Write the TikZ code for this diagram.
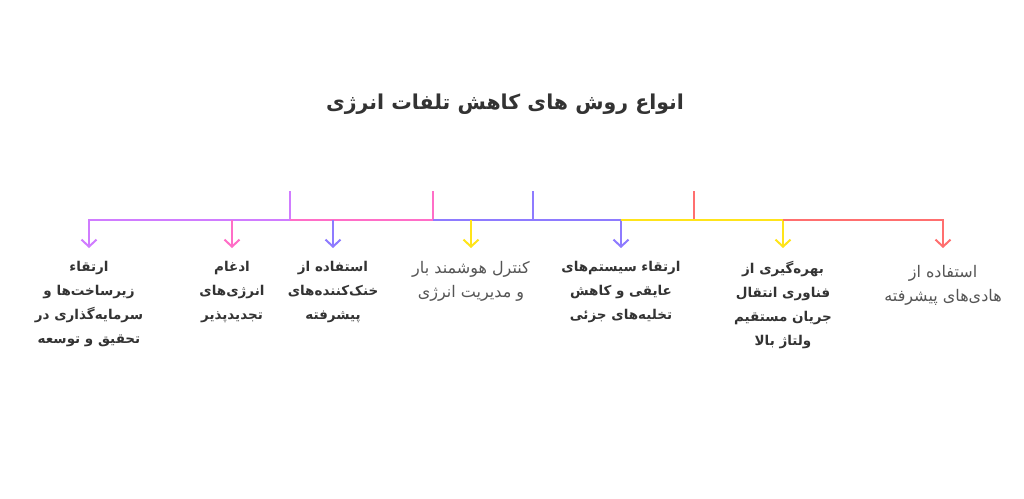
\documentclass[tikz,border=0pt]{standalone}
\usepackage{fontspec}
\usetikzlibrary{arrows.meta}
\newfontfamily\persianfont[Script=Arabic]{DejaVu Sans}
\TeXXeTstate=1
\newcommand{\fa}[1]{\beginR #1\endR}

\definecolor{violetline}{HTML}{D07CFF}
\definecolor{pinkline}{HTML}{FF6EC7}
\definecolor{blueline}{HTML}{8E7BFF}
\definecolor{yellowline}{HTML}{FFE41A}
\definecolor{redline}{HTML}{FF6F6F}
\definecolor{darktext}{HTML}{333333}
\definecolor{softtext}{HTML}{555555}

\tikzstyle{bus}=[line width=2pt]
\tikzstyle{drop}=[line width=2pt, -{Straight Barb[length=7pt,width=15pt]}, shorten >=13pt]
\tikzstyle{strongidea}=[align=center, anchor=north, inner sep=0pt, text=darktext,
    font=\persianfont\bfseries\fontsize{13.5}{24}\selectfont]
\tikzstyle{softidea}=[align=center, anchor=north, inner sep=0pt, text=softtext,
    font=\persianfont\fontsize{16}{24}\selectfont]

\begin{document}
\begin{tikzpicture}[x=1pt, y=-1pt]
            \useasboundingbox (0,0) rectangle (1024,498);

            \node[text=darktext, font=\persianfont\bfseries\fontsize{20.5}{24}\selectfont] (title) at (505,104)
                {\fa{انواع روش های کاهش تلفات انرژی}};

            % labels
            \node[strongidea] (infra) at (89,261)
                {\fa{ارتقاء}\\\fa{زیرساخت^^^^200cها و}\\\fa{سرمایه^^^^200cگذاری در}\\\fa{تحقیق و توسعه}};
            \node[strongidea] (renew) at (232,261)
                {\fa{ادغام}\\\fa{انرژی^^^^200cهای}\\\fa{تجدیدپذیر}};
            \node[strongidea] (cool) at (333,261)
                {\fa{استفاده از}\\\fa{خنک^^^^200cکننده^^^^200cهای}\\\fa{پیشرفته}};
            \node[softidea] (smart) at (471,261)
                {\fa{کنترل هوشمند بار}\\\fa{و مدیریت انرژی}};
            \node[strongidea] (insul) at (621,261)
                {\fa{ارتقاء سیستم^^^^200cهای}\\\fa{عایقی و کاهش}\\\fa{تخلیه^^^^200cهای جزئی}};
            \node[strongidea] (hvdc) at (783,261)
                {\fa{بهره^^^^200cگیری از}\\\fa{فناوری انتقال}\\\fa{جریان مستقیم}\\\fa{ولتاژ بالا}};
            \node[softidea] (cond) at (943,265)
                {\fa{استفاده از}\\\fa{هادی^^^^200cهای پیشرفته}};

            % bus points
            \coordinate (s1top) at (290,191);  \coordinate (s1) at (290,220);
            \coordinate (s2top) at (433,191);  \coordinate (s2) at (433,220);
            \coordinate (s3top) at (533,191);  \coordinate (s3) at (533,220);
            \coordinate (s4top) at (694,191);  \coordinate (s4) at (694,220);
            \coordinate (d1) at (89,220);
            \coordinate (d2) at (232,220);
            \coordinate (d3) at (333,220);
            \coordinate (d4) at (471,220);
            \coordinate (d5) at (621,220);
            \coordinate (d6) at (783,220);
            \coordinate (d7) at (943,220);

            % stems
            \draw[bus, violetline] (s1top) -- (s1);
            \draw[bus, pinkline] (s2top) -- (s2);
            \draw[bus, blueline] (s3top) -- (s3);
            \draw[bus, redline] (s4top) -- (s4);

            % bus with end drops
            \draw[drop, violetline] (s1) -- (d1) -- (d1 |- infra.north);
            \draw[bus, pinkline] (s1) -- (s2);
            \draw[drop, blueline] (s2) -- (d5) -- (d5 |- insul.north);
            \draw[drop, yellowline] (d5) -- (d6) -- (d6 |- hvdc.north);
            \draw[drop, redline, shorten >=17pt] (d6) -- (d7) -- (d7 |- cond.north);

            % middle drops
            \draw[drop, pinkline] (d2) -- (d2 |- renew.north);
            \draw[drop, blueline] (d3) -- (d3 |- cool.north);
            \draw[drop, yellowline] (d4) -- (d4 |- smart.north);
\end{tikzpicture}
\end{document}
